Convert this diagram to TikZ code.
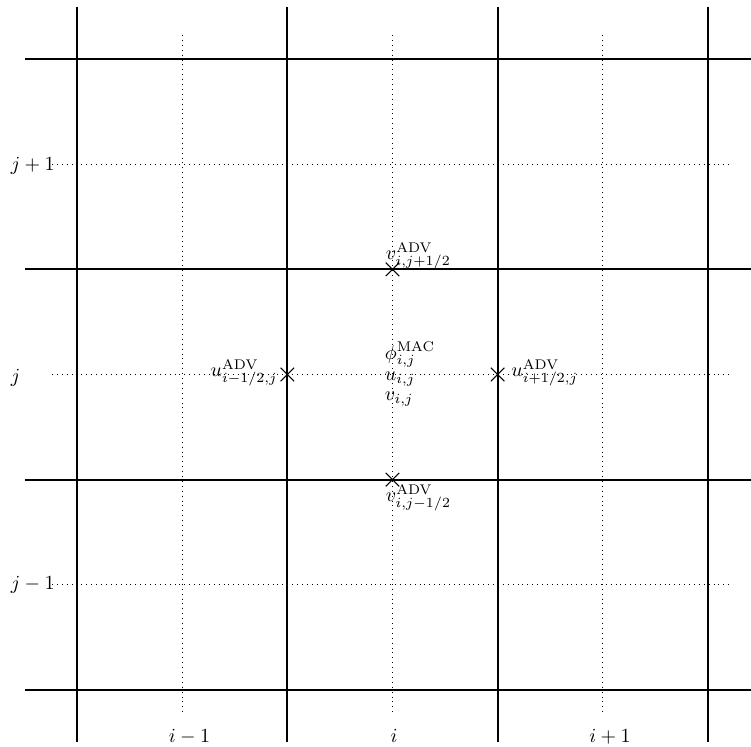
\documentclass[tikz,border=0pt]{standalone}
\usetikzlibrary{shapes.misc}
\tikzset{
  gridline/.style={line width=0.9pt},
  dotline/.style={dotted, line width=0.45pt},
  xmark/.style={cross out, draw, minimum size=6.2pt, inner sep=0pt, line width=0.55pt},
  lbl/.style={inner sep=0pt},
}
\begin{document}
\begin{tikzpicture}[x=0.5pt,y=-0.5pt]
\useasboundingbox (0,0) rectangle (751,746);
% solid grid
\foreach \x in {77,287.3,497.7,708}
  \draw[gridline] (\x,7) -- (\x,742);
\foreach \y in {59,269.3,479.7,690}
  \draw[gridline] (25,\y) -- (751,\y);
% dotted cell-centre lines
\foreach \x in {182.65,392.5,602.85}
  \draw[dotline] (\x,35) -- (\x,713);
\foreach \y in {164.15,374.5,584.85}
  \draw[dotline] (52,\y) -- (733,\y);
% face markers
\node[xmark] (um) at (287.3,374.5) {};
\node[xmark] (up) at (497.7,374.5) {};
\node[xmark] (vp) at (392.5,269.3) {};
\node[xmark] (vm) at (392.5,479.7) {};
% labels
\node[lbl, anchor=base west] (lvp) at (385.5,259.5) {$v^{\mathrm{ADV}}_{i,j+1/2}$};
\node[lbl, anchor=base west] (lvm) at (385.5,501.5) {$v^{\mathrm{ADV}}_{i,j-1/2}$};
\node[lbl, anchor=base east] (lum) at (278,376.5) {$u^{\mathrm{ADV}}_{i-1/2,j}$};
\node[lbl, anchor=base west] (lup) at (511,376.5) {$u^{\mathrm{ADV}}_{i+1/2,j}$};
\node[lbl, anchor=base west] (lphi) at (384.5,359) {$\phi^{\mathrm{MAC}}_{i,j}$};
\node[lbl, anchor=base west] (lu) at (384.5,380) {$u_{i,j}$};
\node[lbl, anchor=base west] (lv) at (384.5,400) {$v_{i,j}$};
% axis labels
\node[lbl, anchor=base west] (jp) at (10.5,170.5) {$j+1$};
\node[lbl, anchor=base west] (j0) at (10.5,382) {$j$};
\node[lbl, anchor=base west] (jm) at (10.5,589.5) {$j-1$};
\node[lbl, anchor=base] (im) at (189.5,742) {$i-1$};
\node[lbl, anchor=base] (i0) at (394,742) {$i$};
\node[lbl, anchor=base] (ip) at (610,742) {$i+1$};
\end{tikzpicture}
\end{document}
